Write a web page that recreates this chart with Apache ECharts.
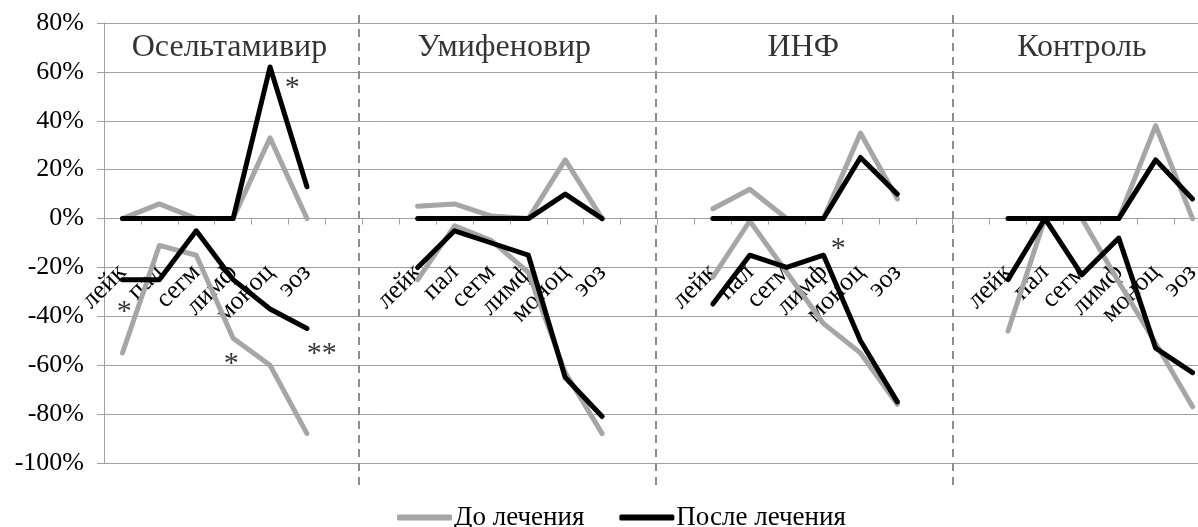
<!DOCTYPE html>
<html>
<head>
<meta charset="utf-8">
<script src="https://cdn.jsdelivr.net/npm/echarts@6/dist/echarts.min.js"></script>
<style>html,body{margin:0;padding:0;background:#fff;overflow:hidden;}#c{width:1211px;height:527px;}</style>
</head>
<body>
<div id="c"></div>
<script>
// ---- data ----
const categories = ['лейк', 'пал', 'сегм', 'лимф', 'моноц', 'эоз'];
const panels = ['Осельтамивир', 'Умифеновир', 'ИНФ', 'Контроль'];
const yTicks = [-100, -80, -60, -40, -20, 0, 20, 40, 60, 80];

// До лечения (grey): positive and negative parts, one array per panel
const beforePos = [
  [0, 6, 0, 0, 33, 0],
  [5, 6, 1, 0, 24, 0],
  [4, 12, 0, 0, 35, 8],
  [0, 0, 0, 0, 38, 0]
];
const beforeNeg = [
  [-55, -11, -15, -49, -60, -88],
  [-25, -3, -9, -22, -63, -88],
  [-24, -1, -22, -43, -55, -76],
  [-46, 0, 0, -26, -51, -77]
];
// После лечения (black)
const afterPos = [
  [0, 0, 0, 0, 62, 13],
  [0, 0, 0, 0, 10, 0],
  [0, 0, 0, 0, 25, 10],
  [0, 0, 0, 0, 24, 8]
];
const afterNeg = [
  [-25, -25, -5, -25, -37, -45],
  [-20, -5, -10, -15, -65, -81],
  [-35, -15, -20, -15, -50, -75],
  [-25, 0, -23, -8, -53, -63]
];
const gapCats = 2;                       // empty categories between panels
const separators = [6.9, 14.95, 23.0];   // dashed separators (category-width units)
const titleX = [3.4, 10.85, 18.95, 26.5];
const titleY = 70;
// significance marks: [x (category-width units), y (%), text]
const marks = [
  [5.1, 56, '*'],
  [0.55, -36, '*'],
  [3.45, -57, '*'],
  [5.9, -53, '**'],
  [19.9, -10, '*']
];

// ---- build ----
const xCats = [];
panels.forEach((p, i) => {
  categories.forEach(c => xCats.push(c));
  if (i < panels.length - 1) for (let g = 0; g < gapCats; g++) xCats.push('');
});
function flat(arr) {
  const out = [];
  arr.forEach((row, i) => {
    row.forEach(v => out.push(v));
    if (i < arr.length - 1) for (let g = 0; g < gapCats; g++) out.push(null);
  });
  return out;
}
const nCats = xCats.length;
const GREY = '#a6a6a6', BLACK = '#000000';
const FONT = 'Liberation Serif';
const GRID_TOP = 23, GRID_BOTTOM = 64, H = 527;
const yMin = yTicks[0], yMax = yTicks[yTicks.length - 1];
const gridH = H - GRID_TOP - GRID_BOTTOM;
const zeroOffset = -gridH * (0 - yMin) / (yMax - yMin);

function lineSeries(name, color, data) {
  return {
    name, type: 'line', xAxisIndex: 0, yAxisIndex: 0, data, z: 10,
    symbol: 'none', showSymbol: false, connectNulls: false,
    lineStyle: { color, width: 5, cap: 'round', join: 'round' },
    itemStyle: { color },
    emphasis: { disabled: true }, silent: true, animation: false
  };
}

const chart = echarts.init(document.getElementById('c'), null, { renderer: 'canvas' });
chart.setOption({
  backgroundColor: '#ffffff',
  animation: false,
  textStyle: { fontFamily: FONT },
  grid: [
    { left: 104, right: 0, top: GRID_TOP, bottom: GRID_BOTTOM },
    { left: 104, right: 0, top: 13, bottom: 42 }
  ],
  legend: {
    data: ['До лечения', 'После лечения'],
    left: 397, top: 504, padding: 0,
    icon: 'roundRect',
    itemWidth: 55, itemHeight: 6, itemGap: 35,
    selectedMode: false,
    textStyle: { fontFamily: FONT, fontSize: 27, color: '#000', padding: [0, 0, 0, -3] }
  },
  xAxis: [
    {
      type: 'category', gridIndex: 0, data: xCats, boundaryGap: true, z: 1,
      offset: zeroOffset,
      axisLine: { onZero: false, lineStyle: { color: '#a0a0a0', width: 1 } },
      axisTick: { show: true, interval: 0, length: 6, lineStyle: { color: '#a0a0a0' } },
      axisLabel: { interval: 0, rotate: 45, margin: 50, color: '#000', fontFamily: FONT, fontSize: 26 },
      splitLine: { show: false }
    },
    { type: 'value', gridIndex: 0, min: 0, max: nCats, show: false },
    { type: 'value', gridIndex: 1, min: 0, max: nCats, show: false }
  ],
  yAxis: [
    {
      type: 'value', gridIndex: 0, min: yMin, max: yMax, interval: 20,
      axisLine: { show: true, onZero: false, lineStyle: { color: '#a0a0a0' } },
      axisTick: { show: true, length: 7, lineStyle: { color: '#a0a0a0' } },
      axisLabel: { formatter: '{value}%', color: '#000', fontFamily: FONT, fontSize: 26, margin: 20 },
      splitLine: { show: true, lineStyle: { color: '#a0a0a0', width: 1 } }
    },
    { type: 'value', gridIndex: 1, min: 0, max: 1, show: false }
  ],
  series: [
    lineSeries('До лечения', GREY, flat(beforePos)),
    lineSeries('До лечения', GREY, flat(beforeNeg)),
    lineSeries('После лечения', BLACK, flat(afterPos)),
    lineSeries('После лечения', BLACK, flat(afterNeg)),
    {
      name: '_titles', type: 'scatter', xAxisIndex: 1, yAxisIndex: 0,
      symbolSize: 0, silent: true,
      data: panels.map((p, i) => ({ name: p, value: [titleX[i], titleY] })),
      label: { show: true, position: 'inside', formatter: d => d.name, color: '#000', fontFamily: FONT, fontSize: 32 }
    },
    {
      name: '_marks', type: 'scatter', xAxisIndex: 1, yAxisIndex: 0,
      symbolSize: 0, silent: true,
      data: marks.map(m => ({ name: m[2], value: [m[0], m[1]] })),
      label: { show: true, position: 'inside', formatter: d => d.name, color: '#000', fontFamily: FONT, fontSize: 30, offset: [0, 6] }
    },
    {
      name: '_sep', type: 'line', xAxisIndex: 2, yAxisIndex: 1,
      data: [[0, 0]], symbol: 'none', lineStyle: { opacity: 0 }, silent: true,
      markLine: {
        silent: true, symbol: ['none', 'none'], label: { show: false },
        lineStyle: { type: [8, 6], color: '#8c8c8c', width: 2 },
        data: separators.map(s => ({ xAxis: s }))
      }
    }
  ]
});
</script>
</body>
</html>
